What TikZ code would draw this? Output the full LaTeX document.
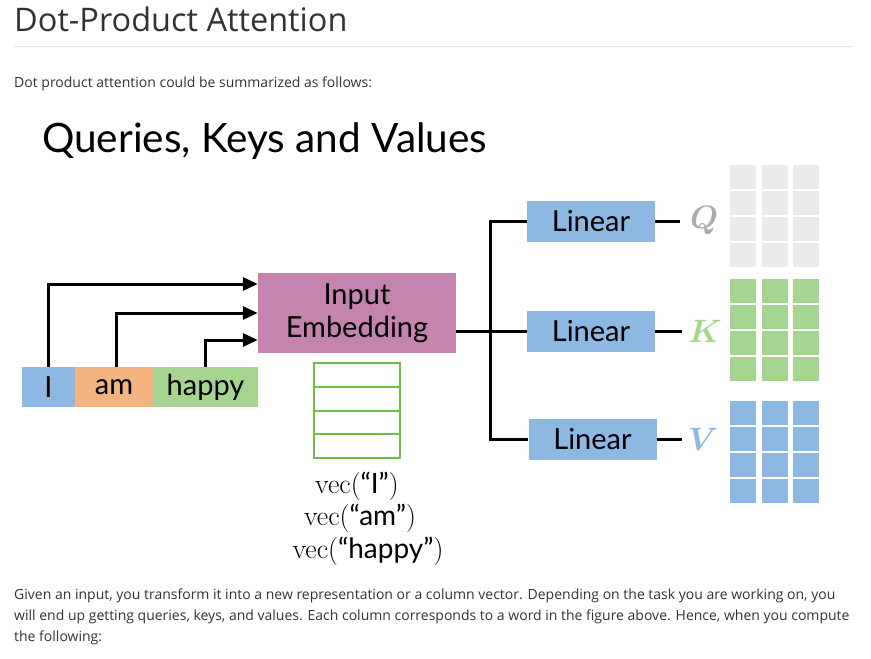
\documentclass[tikz,border=0pt]{standalone}
\usepackage{fontspec}
\usepackage{graphicx}
\newfontfamily\lato{Lato}
\newfontfamily\osans{Open Sans}
\usetikzlibrary{arrows.meta}
\definecolor{tokblue}{HTML}{8DB8E2}
\definecolor{tokorange}{HTML}{F4B482}
\definecolor{tokgreen}{HTML}{A6D592}
\definecolor{embpink}{HTML}{C584AE}
\definecolor{vecgreen}{HTML}{6DBF4B}
\definecolor{qgray}{HTML}{EBEBEB}
\definecolor{qlabel}{HTML}{ABABAB}
\definecolor{txt}{HTML}{333333}
\definecolor{rulegray}{HTML}{E3E3E3}
\newcommand{\biglab}[1]{\scalebox{1.3}{\boldmath$#1$}}
\tikzset{
  box/.style={draw=none, inner sep=0pt, font=\lato\fontsize{29}{33}\selectfont, align=center},
  tok/.style={box, minimum height=40pt},
  lin/.style={box, fill=tokblue, minimum width=128pt, minimum height=41pt},
  wire/.style={line width=3pt, black},
  arr/.style={wire, -{Triangle[length=15pt,width=13pt]}},
  para/.style={anchor=base west, inner sep=0pt, text=txt, font=\osans\fontsize{14}{17}\selectfont},
  vlab/.style={inner sep=0pt, font=\fontsize{28}{32}\selectfont},
  mlab/.style={inner sep=0pt, font=\fontsize{24.88}{30}\selectfont},
}
\begin{document}
\begin{tikzpicture}[x=1pt,y=-1pt]
\useasboundingbox[fill=white] (0,0) rectangle (871,659);
% page text
\node[para, font=\osans\fontsize{32.5}{38}\selectfont] (title) at (14,31) {Dot-Product Attention};
\draw[rulegray, line width=1pt] (14,46) -- (853,46);
\node[para] (intro) at (14,87) {Dot product attention could be summarized as follows:};
\node[para] (p1) at (14,599) {Given an input, you transform it into a new representation or a column vector. Depending on the task you are working on, you};
\node[para] (p2) at (14,620) {will end up getting queries, keys, and values. Each column corresponds to a word in the figure above. Hence, when you compute};
\node[para] (p3) at (14,641) {the following:};
% heading of figure
\node[anchor=base west, inner sep=0pt, font=\lato\fontsize{40.5}{48}\selectfont] (head) at (42,152) {Queries, Keys and Values};
% tokens
\node[tok, fill=tokblue, minimum width=53pt] (tI) at (48.5,387) {I};
\node[tok, fill=tokorange, minimum width=78pt] (tam) at (114,387) {am};
\node[tok, fill=tokgreen, minimum width=105pt] (thappy) at (205.5,387) {happy};
% embedding
\node[box, fill=embpink, minimum width=198pt, minimum height=80pt] (emb) at (357,313) {Input\\[0pt]Embedding};
\draw[arr] (tI.north) |- ([yshift=29pt]emb.west);
\draw[arr] ([xshift=2pt]tam.north) |- (emb.west);
\draw[arr] (thappy.north) |- ([yshift=-27pt]emb.west);
% embedding vector
\draw[vecgreen, line width=2pt] (314,363) rectangle (400,458);
\foreach \yy in {386.75,410.5,434.25} \draw[vecgreen, line width=2pt] (314,\yy) -- (400,\yy);
\node[vlab] (v1) at (357,486) {vec({\lato “I”})};
\node[vlab] (v2) at (360,518) {vec({\lato “am”})};
\node[vlab] (v3) at (368,551) {vec({\lato “happy”})};
% linear layers
\node[lin] (l1) at (591,221) {Linear};
\node[lin] (l2) at (591,331.5) {Linear};
\node[lin] (l3) at (592.5,439) {Linear};
\coordinate (bx) at (490,0);
\draw[wire] (emb.east |- l2.west) -- (l2.west);
\draw[wire, line cap=butt] (l1.west) -- (bx |- l1.west) -- (bx |- l3.west) -- (l3.west);
% labels
\node[mlab, text=qlabel, anchor=west] (q) at (690,221) {\biglab{Q}};
\node[mlab, text=tokgreen, anchor=west] (k) at (688,331.5) {\biglab{K}};
\node[mlab, text=tokblue, anchor=west] (v) at (688,439) {\biglab{V}};
\draw[wire] (l1.east) -- ([xshift=-10pt]q.west |- l1.east);
\draw[wire] (l2.east) -- ([xshift=-6pt]k.west |- l2.east);
\draw[wire] (l3.east) -- ([xshift=-6pt]v.west |- l3.east);
% matrices
\foreach \col/\top in {qgray/165, tokgreen/279, tokblue/401} {
  \foreach \xx in {730,761.5,793} {
    \foreach \r in {0,1,2,3} {
      \fill[\col] (\xx,\top+\r*26) rectangle ++(26,24);
    }
  }
}
\end{tikzpicture}
\end{document}
